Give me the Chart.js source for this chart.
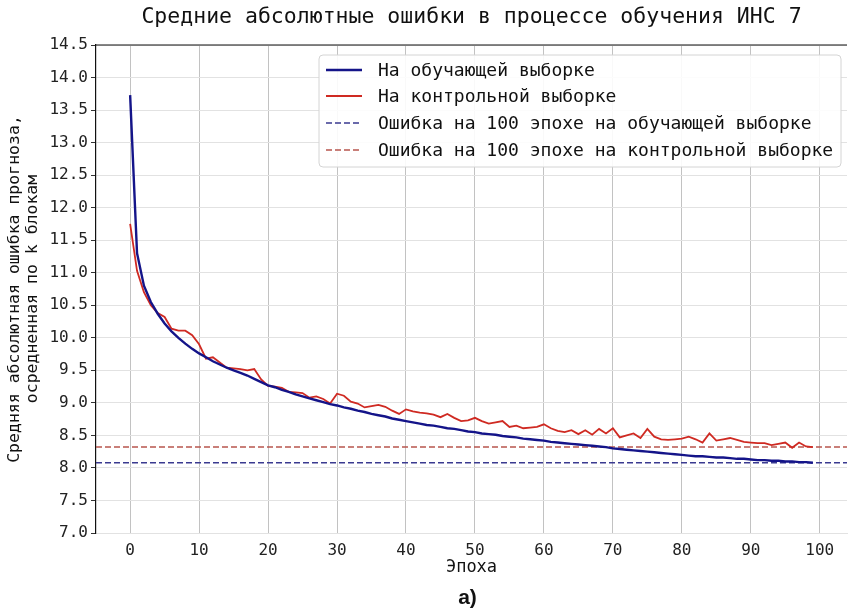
<!DOCTYPE html>
<html>
<head>
<meta charset="utf-8">
<script src="https://cdn.jsdelivr.net/npm/chart.js@4.4.1/dist/chart.umd.min.js"></script>
<style>
  html, body { margin: 0; padding: 0; background: #fff; }
  #wrap { width: 848px; height: 614px; position: relative; }
</style>
</head>
<body>
<div id="wrap"><canvas id="chart" width="848" height="614"></canvas></div>
<script>
const titleText = 'Средние абсолютные ошибки в процессе обучения ИНС 7'
const xTitle = 'Эпоха'
const yTitleLines = ['Средняя абсолютная ошибка прогноза,', 'осредненная по k блокам']
const caption = 'а)'
const seriesLabels = [
  'На обучающей выборке',
  'На контрольной выборке',
  'Ошибка на 100 эпохе на обучающей выборке',
  'Ошибка на 100 эпохе на контрольной выборке',
]
const xTicks = [0, 10, 20, 30, 40, 50, 60, 70, 80, 90, 100]

// training MAE per epoch (0..99)
const trainMae = [
  13.73, 11.30, 10.80, 10.55, 10.37, 10.22, 10.10, 10.00, 9.91, 9.83,
  9.76, 9.70, 9.64, 9.59, 9.54, 9.50, 9.46, 9.42, 9.37, 9.32,
  9.27, 9.24, 9.20, 9.17, 9.13, 9.10, 9.07, 9.04, 9.01, 8.98,
  8.96, 8.93, 8.91, 8.88, 8.86, 8.83, 8.81, 8.79, 8.76, 8.74,
  8.72, 8.70, 8.68, 8.66, 8.65, 8.63, 8.61, 8.60, 8.58, 8.56,
  8.55, 8.53, 8.52, 8.51, 8.49, 8.48, 8.47, 8.45, 8.44, 8.43,
  8.42, 8.40, 8.39, 8.38, 8.37, 8.36, 8.35, 8.34, 8.33, 8.32,
  8.30, 8.29, 8.28, 8.27, 8.26, 8.25, 8.24, 8.23, 8.22, 8.21,
  8.20, 8.19, 8.18, 8.18, 8.17, 8.16, 8.16, 8.15, 8.14, 8.14,
  8.13, 8.12, 8.12, 8.11, 8.11, 8.10, 8.10, 8.09, 8.09, 8.08,
]

// validation MAE per epoch (0..99)
const validMae = [
  11.75, 11.03, 10.70, 10.50, 10.38, 10.32, 10.14, 10.11, 10.11, 10.04,
  9.90, 9.68, 9.70, 9.62, 9.54, 9.53, 9.52, 9.50, 9.52, 9.36,
  9.26, 9.25, 9.23, 9.17, 9.16, 9.15, 9.08, 9.10, 9.06, 8.99,
  9.14, 9.11, 9.02, 8.99, 8.93, 8.95, 8.97, 8.94, 8.88, 8.83,
  8.90, 8.87, 8.85, 8.84, 8.82, 8.78, 8.83, 8.77, 8.72, 8.73,
  8.77, 8.72, 8.68, 8.70, 8.72, 8.63, 8.65, 8.61, 8.62, 8.63,
  8.67, 8.61, 8.57, 8.55, 8.58, 8.52, 8.58, 8.51, 8.60, 8.53,
  8.61, 8.47, 8.50, 8.53, 8.46, 8.60, 8.48, 8.44, 8.43, 8.44,
  8.45, 8.48, 8.44, 8.39, 8.53, 8.42, 8.44, 8.46, 8.43, 8.40,
  8.39, 8.38, 8.38, 8.35, 8.37, 8.39, 8.31, 8.39, 8.33, 8.32,
]

const epochs = trainMae.map((v, i) => i)
const trainFinal = trainMae[trainMae.length - 1]
const validFinal = validMae[validMae.length - 1]
const xMin = -4.95
const xMax = 103.95

const MONO = '"DejaVu Sans Mono", monospace'

const toPoints = (ys) => ys.map((y, i) => ({ x: epochs[i], y: y }))
const hline = (y) => [{ x: xMin, y: y }, { x: xMax, y: y }]

// titles, top spine and the in-plot legend
const decorPlugin = {
  id: 'decor',
  afterDraw(chart) {
    const { ctx, chartArea } = chart
    const cx = (chartArea.left + chartArea.right) / 2
    ctx.save()
    ctx.fillStyle = '#111'
    ctx.textAlign = 'center'
    ctx.textBaseline = 'middle'
    ctx.font = '21.5px ' + MONO
    ctx.fillText(titleText, cx, 17)

    ctx.font = '17px ' + MONO
    ctx.fillText(xTitle, cx, 568)

    ctx.font = 'bold 21px "Liberation Sans", Arial, sans-serif'
    ctx.fillText(caption, cx - 4, 598)

    ctx.font = '16.5px ' + MONO
    ctx.translate(15, (chartArea.top + chartArea.bottom) / 2)
    ctx.rotate(-Math.PI / 2)
    ctx.fillText(yTitleLines[0], 0, 0)
    ctx.fillText(yTitleLines[1], 0, 18)
    ctx.restore()

    // top spine
    ctx.save()
    ctx.strokeStyle = '#111'
    ctx.lineWidth = 1.2
    ctx.beginPath()
    ctx.moveTo(chartArea.left, chartArea.top)
    ctx.lineTo(chartArea.right, chartArea.top)
    ctx.stroke()

    // legend box
    const bx = 319, by = 55, bw = 522, bh = 112
    ctx.fillStyle = 'rgba(255,255,255,0.9)'
    ctx.strokeStyle = '#d4d4d4'
    ctx.lineWidth = 1
    ctx.beginPath()
    ctx.roundRect(bx, by, bw, bh, 4)
    ctx.fill()
    ctx.stroke()
    const rows = [70, 96, 123, 150]
    ctx.font = '18px ' + MONO
    ctx.textAlign = 'left'
    ctx.textBaseline = 'middle'
    chart.data.datasets.forEach((ds, i) => {
      const y = rows[i]
      ctx.strokeStyle = ds.borderColor
      ctx.lineWidth = ds.borderWidth
      ctx.setLineDash(ds.borderDash || [])
      ctx.beginPath()
      ctx.moveTo(326, y)
      ctx.lineTo(362, y)
      ctx.stroke()
      ctx.setLineDash([])
      ctx.fillStyle = '#111'
      ctx.fillText(ds.label, 378, y + 1)
    })
    ctx.restore()
  },
}

new Chart(document.getElementById('chart'), {
  type: 'line',
  data: {
    datasets: [
      {
        label: seriesLabels[0],
        data: toPoints(trainMae),
        borderColor: '#141489',
        borderWidth: 2.4,
        pointRadius: 0,
        tension: 0,
        order: 1,
      },
      {
        label: seriesLabels[1],
        data: toPoints(validMae),
        borderColor: '#cf2a22',
        borderWidth: 1.8,
        pointRadius: 0,
        tension: 0,
        order: 2,
      },
      {
        label: seriesLabels[2],
        data: hline(trainFinal),
        borderColor: '#3a3a90',
        borderWidth: 1.5,
        borderDash: [6, 3],
        pointRadius: 0,
        order: 3,
      },
      {
        label: seriesLabels[3],
        data: hline(validFinal),
        borderColor: '#b8564e',
        borderWidth: 1.5,
        borderDash: [6, 3],
        pointRadius: 0,
        order: 4,
      },
    ],
  },
  options: {
    responsive: false,
    animation: false,
    layout: { padding: { top: 45, right: 1, left: 0, bottom: 0 } },
    plugins: {
      legend: { display: false },
      title: { display: false },
      tooltip: { enabled: false },
    },
    scales: {
      x: {
        type: 'linear',
        min: xMin,
        max: xMax,
        afterBuildTicks(scale) {
          scale.ticks = xTicks.map((v) => ({ value: v }))
        },
        afterFit(scale) {
          scale.height = 81
        },
        grid: { color: '#c2c2c2', lineWidth: 1, drawTicks: false },
        border: { color: '#e2e2e2', width: 1 },
        ticks: {
          padding: 8,
          color: '#222',
          font: { family: MONO, size: 16 },
          maxRotation: 0,
        },
      },
      y: {
        min: 7,
        max: 14.5,
        afterFit(scale) {
          scale.width = 96
        },
        grid: { color: '#e2e2e2', lineWidth: 1, tickLength: 5, tickColor: '#333' },
        border: { color: '#111', width: 1.2 },
        ticks: {
          stepSize: 0.5,
          padding: 3,
          color: '#222',
          font: { family: MONO, size: 16 },
          callback: (v) => v.toFixed(1),
        },
      },
    },
  },
  plugins: [decorPlugin],
})
</script>
</body>
</html>
